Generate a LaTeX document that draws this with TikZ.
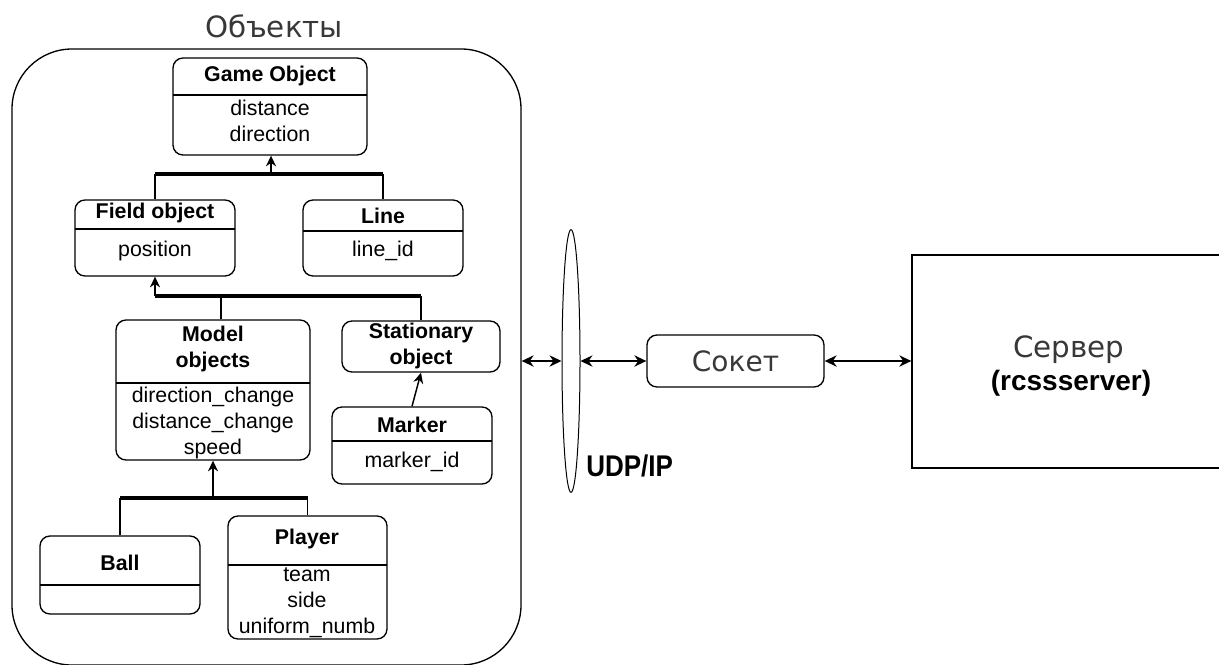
\documentclass[tikz,border=0pt]{standalone}
\usepackage{fontspec}
\usepackage{graphicx}
\setmainfont{Liberation Sans}
\newfontfamily\cyrfont{DejaVu Sans}
\usetikzlibrary{arrows.meta,fit,shapes.geometric}
\begin{document}
\begin{tikzpicture}[x=0.75pt,y=-0.75pt,
  cls/.style={draw, rounded corners=7.5pt, inner sep=0pt, line width=1pt},
  t/.style={inner sep=0pt, align=center, font=\fontsize{16}{19.5}\selectfont},
  tb/.style={inner sep=0pt, align=center, font=\fontsize{16}{19.5}\selectfont\bfseries},
  bus/.style={line width=2.3pt},
  stub/.style={line width=1.1pt},
  inh/.style={line width=1.1pt, -{Stealth[length=8pt,width=7.5pt]}},
  dbl/.style={line width=1pt, {Stealth[length=9pt,width=8.5pt]}-{Stealth[length=9pt,width=8.5pt]}},
  big/.style={inner sep=0pt, font=\cyrfont\fontsize{22}{26}\selectfont, text=black!78}
]
\useasboundingbox (0,0) rectangle (1219,664);
\clip (0,0) rectangle (1219,664);

% outer container
\node[draw, line width=1pt, rounded corners=45pt, inner sep=0pt, fit={(12,49) (521,665)}] (outer) {};
\node[big] (title) at (274,26) {Объекты};

% Game Object
\node[cls, fit={(173,58) (367,155)}] (go) {};
\draw[line width=1pt] (173,95) -- (367,95);
\node[tb] (goT) at (270,76) {Game Object};
\node[t] (goA) at (270,121) {distance\\direction};

% Field object
\node[cls, fit={(75,200) (235,276)}] (field) {};
\draw[line width=1pt] (75,229) -- (235,229);
\node[tb] (fieldT) at (155,213) {Field object};
\node[t] (fieldA) at (155,251) {position};

% Line
\node[cls, fit={(303,200) (463,276)}] (line) {};
\draw[line width=1pt] (303,231) -- (463,231);
\node[tb] (lineT) at (383,216) {Line};
\node[t] (lineA) at (383,251) {line\_id};

% Model objects
\node[cls, fit={(116,320) (310,460)}] (model) {};
\draw[line width=1pt] (116,383) -- (310,383);
\node[tb] (modelT) at (213,349) {Model\\objects};
\node[t] (modelA) at (213,423) {direction\_change\\distance\_change\\speed};

% Stationary object
\node[cls, fit={(342,321) (500,372)}] (station) {};
\node[tb] (stationT) at (421,346) {Stationary\\object};

% Marker
\node[cls, fit={(332,407) (492,484)}] (marker) {};
\draw[line width=1pt] (332,441) -- (492,441);
\node[tb] (markerT) at (412,425) {Marker};
\node[t] (markerA) at (412,462) {marker\_id};

% Ball
\node[cls, fit={(40,536) (200,614)}] (ball) {};
\draw[line width=1pt] (40,585) -- (200,585);
\node[tb] (ballT) at (120,563) {Ball};

% Player
\node[cls, fit={(228,516) (387,639)}] (player) {};
\draw[line width=1pt] (228,565) -- (387,565);
\node[tb] (playerT) at (307,539) {Player};
\node[t] (playerA) at (307,603) {team\\side\\uniform\_numb};

% inheritance level 1
\coordinate (j1) at (271,174);
\draw[stub] (field.north) -- (field.north |- j1);
\draw[stub] (line.north) -- (line.north |- j1);
\draw[bus] (field.north |- j1) -- (line.north |- j1);
\draw[inh] (j1) -- (j1 |- go.south);

% inheritance level 2
\coordinate (j2) at (155,296);
\coordinate (m2) at (221,296);
\draw[stub] (m2 |- model.north) -- (m2);
\draw[stub] (station.north) -- (station.north |- j2);
\draw[bus] (j2) -- (station.north |- j2);
\draw[inh] (j2) -- (j2 |- field.south);

% inheritance level 3
\coordinate (j3) at (213,498);
\draw[stub] (ball.north) -- (ball.north |- j3);
\draw[stub] (player.north) -- (player.north |- j3);
\draw[bus] (ball.north |- j3) -- (player.north |- j3);
\draw[inh] (j3) -- (j3 |- model.south);

% marker -> stationary
\draw[inh] (marker.north) -- (station.south);

% network part
\node[draw, ellipse, line width=0.75pt, minimum width=13.5pt, minimum height=197pt, inner sep=0pt] (udp) at (571,361) {};
\node[inner sep=0pt, anchor=west, font=\fontsize{19.5}{22}\selectfont\bfseries] (udpT) at (586,466) {\scalebox{1}[1.15]{UDP/IP}};

\node[cls, fit={(647,335) (824,387)}] (sock) {};
\node[big, font=\cyrfont\fontsize{21}{25}\selectfont] (sockT) at (sock.center) {Сокет};

\node[draw, line width=1pt, inner sep=0pt, fit={(912,255) (1240,468)}] (server) {};
\node[big] (serverT) at (1069,350) {Сервер};
\node[inner sep=0pt, font=\fontsize{21}{24}\selectfont\bfseries] (serverS) at (1071,383) {(rcssserver)};

\draw[dbl] (udp.west -| outer.east) -- (udp.west);
\draw[dbl] (udp.east) -- (sock.west);
\draw[dbl] (sock.east) -- (server.west |- sock.east);
\end{tikzpicture}
\end{document}
